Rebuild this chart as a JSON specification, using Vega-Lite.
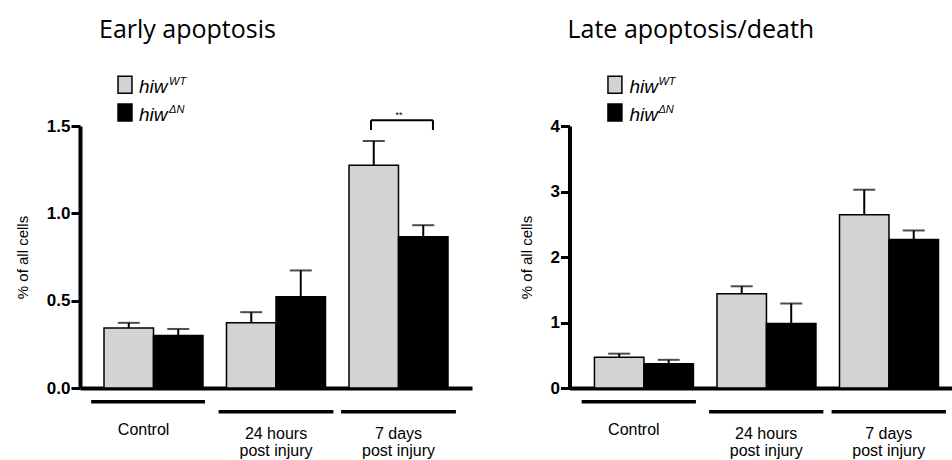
{
  "$schema": "https://vega.github.io/schema/vega-lite/v6.json",
  "background": "white",
  "autosize": {"type": "pad"},
  "padding": {"left": 15, "top": 18, "right": 0, "bottom": 0},
  "spacing": 97.5,
  "bounds": "flush",
  "datasets": {
    "early": [
      {"group": "Control", "geno": "WT", "value": 0.344, "upper": 0.373},
      {"group": "Control", "geno": "KO", "value": 0.300, "upper": 0.338},
      {"group": "24h", "geno": "WT", "value": 0.373, "upper": 0.434},
      {"group": "24h", "geno": "KO", "value": 0.522, "upper": 0.673},
      {"group": "7d", "geno": "WT", "value": 1.275, "upper": 1.414},
      {"group": "7d", "geno": "KO", "value": 0.866, "upper": 0.932}
    ],
    "late": [
      {"group": "Control", "geno": "WT", "value": 0.468, "upper": 0.524},
      {"group": "Control", "geno": "KO", "value": 0.370, "upper": 0.430},
      {"group": "24h", "geno": "WT", "value": 1.440, "upper": 1.553},
      {"group": "24h", "geno": "KO", "value": 0.983, "upper": 1.290},
      {"group": "7d", "geno": "WT", "value": 2.645, "upper": 3.027},
      {"group": "7d", "geno": "KO", "value": 2.268, "upper": 2.405}
    ],
    "groups": [
      {"group": "Control", "label": "Control"},
      {"group": "24h", "label": "24 hours\npost injury"},
      {"group": "7d", "label": "7 days\npost injury"}
    ],
    "legendWT": [{"geno": "WT", "name": "hiw", "sup": "WT"}],
    "legendKO": [{"geno": "KO", "name": "hiw", "sup": "ΔN"}],
    "sig": [{"group": "7d", "label": "**"}]
  },
  "hconcat": [
    {
      "width": 392,
      "height": 262,
      "title": {"text": "Early apoptosis", "anchor": "start", "frame": "group", "dx": 19, "offset": 30},
      "encoding": {
        "x": {"field": "group", "type": "nominal", "sort": ["Control", "24h", "7d"],
              "scale": {"paddingInner": 0.192, "paddingOuter": 0.196, "align": 0.5},
              "axis": {"labels": false, "ticks": false, "title": null, "domainWidth": 4, "domainColor": "black"}}
      },
      "layer": [
        {
          "data": {"name": "early"},
          "mark": {"type": "bar", "stroke": "black", "strokeWidth": 1.5},
          "encoding": {
            "xOffset": {"field": "geno", "sort": ["WT", "KO"], "scale": {"paddingInner": 0, "paddingOuter": 0}},
            "y": {"field": "value", "type": "quantitative", "scale": {"domain": [0, 1.5], "nice": false},
                  "axis": {"values": [0, 0.5, 1, 1.5], "format": ".1f", "title": "% of all cells"}},
            "fill": {"field": "geno", "scale": {"domain": ["WT", "KO"], "range": ["#d3d3d3", "#000000"]}, "legend": null}
          }
        },
        {
          "data": {"name": "early"},
          "mark": {"type": "rule", "color": "black", "strokeWidth": 2},
          "encoding": {
            "xOffset": {"field": "geno", "sort": ["WT", "KO"]},
            "y": {"field": "value", "type": "quantitative"},
            "y2": {"field": "upper"}
          }
        },
        {
          "data": {"name": "early"},
          "mark": {"type": "tick", "color": "black", "thickness": 2, "size": 22},
          "encoding": {
            "xOffset": {"field": "geno", "sort": ["WT", "KO"]},
            "y": {"field": "upper", "type": "quantitative"}
          }
        },
        {
          "data": {"name": "groups"},
          "transform": [{"filter": "datum.group == 'Control'"}],
          "mark": {"type": "rule", "color": "black", "strokeWidth": 3.5},
          "encoding": {
            "x": {"field": "group", "type": "nominal", "sort": ["Control", "24h", "7d"], "bandPosition": -0.13},
            "x2": {"field": "group", "bandPosition": 1.02},
            "y": {"datum": -0.0786}
          }
        },
        {
          "data": {"name": "groups"},
          "transform": [{"filter": "datum.group != 'Control'"}],
          "mark": {"type": "rule", "color": "black", "strokeWidth": 3.5},
          "encoding": {
            "x": {"field": "group", "type": "nominal", "sort": ["Control", "24h", "7d"], "bandPosition": -0.08},
            "x2": {"field": "group", "bandPosition": 1.08},
            "y": {"datum": -0.136}
          }
        },
        {
          "data": {"name": "groups"},
          "transform": [{"filter": "datum.group == 'Control'"}],
          "mark": {"type": "text", "font": "Liberation Sans", "fontSize": 16, "baseline": "middle", "align": "center", "color": "black"},
          "encoding": {
            "x": {"field": "group", "type": "nominal", "sort": ["Control", "24h", "7d"], "bandPosition": 0.4},
            "y": {"datum": -0.2391},
            "text": {"field": "label"}
          }
        },
        {
          "data": {"name": "groups"},
          "transform": [{"filter": "datum.group != 'Control'"}],
          "mark": {"type": "text", "font": "Liberation Sans", "fontSize": 16, "baseline": "middle", "align": "center", "lineBreak": "\n", "lineHeight": 17, "color": "black"},
          "encoding": {
            "x": {"field": "group", "type": "nominal", "sort": ["Control", "24h", "7d"], "bandPosition": 0.5},
            "y": {"datum": -0.265},
            "text": {"field": "label"}
          }
        },
        {
          "data": {"name": "legendWT"},
          "encoding": {"y": {"datum": 1.736}},
          "layer": [
            {"mark": {"type": "point", "shape": "M-0.82,-1H0.82V1H-0.82Z", "size": 289, "filled": true, "stroke": "black", "strokeWidth": 1.5, "opacity": 1},
             "encoding": {"x": {"datum": "Control", "type": "nominal", "bandPosition": 0.212},
                          "fill": {"field": "geno", "legend": null}}},
            {"mark": {"type": "text", "font": "Liberation Sans", "fontStyle": "italic", "fontSize": 19, "align": "left", "baseline": "middle", "dy": 2, "color": "black"},
             "encoding": {"x": {"datum": "Control", "type": "nominal", "bandPosition": 0.354}, "text": {"field": "name"}}},
            {"mark": {"type": "text", "font": "Liberation Sans", "fontStyle": "italic", "fontSize": 11, "align": "left", "baseline": "middle", "dy": -3, "color": "black"},
             "encoding": {"x": {"datum": "Control", "type": "nominal", "bandPosition": 0.657}, "text": {"field": "sup"}}}
          ]
        },
        {
          "data": {"name": "legendKO"},
          "encoding": {"y": {"datum": 1.577}},
          "layer": [
            {"mark": {"type": "point", "shape": "M-0.82,-1H0.82V1H-0.82Z", "size": 289, "filled": true, "stroke": "black", "strokeWidth": 1.5, "opacity": 1},
             "encoding": {"x": {"datum": "Control", "type": "nominal", "bandPosition": 0.212},
                          "fill": {"field": "geno", "legend": null}}},
            {"mark": {"type": "text", "font": "Liberation Sans", "fontStyle": "italic", "fontSize": 19, "align": "left", "baseline": "middle", "dy": 2, "color": "black"},
             "encoding": {"x": {"datum": "Control", "type": "nominal", "bandPosition": 0.354}, "text": {"field": "name"}}},
            {"mark": {"type": "text", "font": "Liberation Sans", "fontStyle": "italic", "fontSize": 11, "align": "left", "baseline": "middle", "dy": -3, "color": "black"},
             "encoding": {"x": {"datum": "Control", "type": "nominal", "bandPosition": 0.657}, "text": {"field": "sup"}}}
          ]
        },
        {
          "data": {"name": "sig"},
          "layer": [
            {"mark": {"type": "rule", "color": "black", "strokeWidth": 2},
             "encoding": {"x": {"field": "group", "type": "nominal", "bandPosition": 0.222},
                          "x2": {"field": "group", "bandPosition": 0.848},
                          "y": {"datum": 1.533}}},
            {"mark": {"type": "rule", "color": "black", "strokeWidth": 2},
             "encoding": {"x": {"field": "group", "type": "nominal", "bandPosition": 0.222},
                          "y": {"datum": 1.477}, "y2": {"datum": 1.533}}},
            {"mark": {"type": "rule", "color": "black", "strokeWidth": 2},
             "encoding": {"x": {"field": "group", "type": "nominal", "bandPosition": 0.848},
                          "y": {"datum": 1.477}, "y2": {"datum": 1.533}}},
            {"mark": {"type": "text", "font": "Liberation Sans", "fontSize": 9, "align": "center", "baseline": "middle", "color": "black"},
             "encoding": {"x": {"field": "group", "type": "nominal", "bandPosition": 0.505},
                          "y": {"datum": 1.565}, "text": {"field": "label"}}}
          ]
        }
      ]
    },
    {
      "width": 384,
      "height": 262,
      "title": {"text": "Late apoptosis/death", "anchor": "start", "frame": "group", "dx": -2, "offset": 30},
      "encoding": {
        "x": {"field": "group", "type": "nominal", "sort": ["Control", "24h", "7d"],
              "scale": {"paddingInner": 0.196, "paddingOuter": 0.165, "align": 0.617},
              "axis": {"labels": false, "ticks": false, "title": null, "domainWidth": 4, "domainColor": "black"}}
      },
      "layer": [
        {
          "data": {"name": "late"},
          "mark": {"type": "bar", "stroke": "black", "strokeWidth": 1.5},
          "encoding": {
            "xOffset": {"field": "geno", "sort": ["WT", "KO"], "scale": {"paddingInner": 0, "paddingOuter": 0}},
            "y": {"field": "value", "type": "quantitative", "scale": {"domain": [0, 4], "nice": false},
                  "axis": {"values": [0, 1, 2, 3, 4], "format": "d", "title": "% of all cells"}},
            "fill": {"field": "geno", "scale": {"domain": ["WT", "KO"], "range": ["#d3d3d3", "#000000"]}, "legend": null}
          }
        },
        {
          "data": {"name": "late"},
          "mark": {"type": "rule", "color": "black", "strokeWidth": 2},
          "encoding": {
            "xOffset": {"field": "geno", "sort": ["WT", "KO"]},
            "y": {"field": "value", "type": "quantitative"},
            "y2": {"field": "upper"}
          }
        },
        {
          "data": {"name": "late"},
          "mark": {"type": "tick", "color": "black", "thickness": 2, "size": 22},
          "encoding": {
            "xOffset": {"field": "geno", "sort": ["WT", "KO"]},
            "y": {"field": "upper", "type": "quantitative"}
          }
        },
        {
          "data": {"name": "groups"},
          "transform": [{"filter": "datum.group == 'Control'"}],
          "mark": {"type": "rule", "color": "black", "strokeWidth": 3.5},
          "encoding": {
            "x": {"field": "group", "type": "nominal", "sort": ["Control", "24h", "7d"], "bandPosition": -0.13},
            "x2": {"field": "group", "bandPosition": 1.03},
            "y": {"datum": -0.2095}
          }
        },
        {
          "data": {"name": "groups"},
          "transform": [{"filter": "datum.group != 'Control'"}],
          "mark": {"type": "rule", "color": "black", "strokeWidth": 3.5},
          "encoding": {
            "x": {"field": "group", "type": "nominal", "sort": ["Control", "24h", "7d"], "bandPosition": -0.08},
            "x2": {"field": "group", "bandPosition": 1.08},
            "y": {"datum": -0.362}
          }
        },
        {
          "data": {"name": "groups"},
          "transform": [{"filter": "datum.group == 'Control'"}],
          "mark": {"type": "text", "font": "Liberation Sans", "fontSize": 16, "baseline": "middle", "align": "center", "color": "black"},
          "encoding": {
            "x": {"field": "group", "type": "nominal", "sort": ["Control", "24h", "7d"], "bandPosition": 0.4},
            "y": {"datum": -0.637},
            "text": {"field": "label"}
          }
        },
        {
          "data": {"name": "groups"},
          "transform": [{"filter": "datum.group != 'Control'"}],
          "mark": {"type": "text", "font": "Liberation Sans", "fontSize": 16, "baseline": "middle", "align": "center", "lineBreak": "\n", "lineHeight": 17, "color": "black"},
          "encoding": {
            "x": {"field": "group", "type": "nominal", "sort": ["Control", "24h", "7d"], "bandPosition": 0.5},
            "y": {"datum": -0.706},
            "text": {"field": "label"}
          }
        },
        {
          "data": {"name": "legendWT"},
          "encoding": {"y": {"datum": 4.63}},
          "layer": [
            {"mark": {"type": "point", "shape": "M-0.82,-1H0.82V1H-0.82Z", "size": 289, "filled": true, "stroke": "black", "strokeWidth": 1.5, "opacity": 1},
             "encoding": {"x": {"datum": "Control", "type": "nominal", "bandPosition": 0.208},
                          "fill": {"field": "geno", "legend": null}}},
            {"mark": {"type": "text", "font": "Liberation Sans", "fontStyle": "italic", "fontSize": 19, "align": "left", "baseline": "middle", "dy": 2, "color": "black"},
             "encoding": {"x": {"datum": "Control", "type": "nominal", "bandPosition": 0.355}, "text": {"field": "name"}}},
            {"mark": {"type": "text", "font": "Liberation Sans", "fontStyle": "italic", "fontSize": 11, "align": "left", "baseline": "middle", "dy": -3, "color": "black"},
             "encoding": {"x": {"datum": "Control", "type": "nominal", "bandPosition": 0.65}, "text": {"field": "sup"}}}
          ]
        },
        {
          "data": {"name": "legendKO"},
          "encoding": {"y": {"datum": 4.205}},
          "layer": [
            {"mark": {"type": "point", "shape": "M-0.82,-1H0.82V1H-0.82Z", "size": 289, "filled": true, "stroke": "black", "strokeWidth": 1.5, "opacity": 1},
             "encoding": {"x": {"datum": "Control", "type": "nominal", "bandPosition": 0.208},
                          "fill": {"field": "geno", "legend": null}}},
            {"mark": {"type": "text", "font": "Liberation Sans", "fontStyle": "italic", "fontSize": 19, "align": "left", "baseline": "middle", "dy": 2, "color": "black"},
             "encoding": {"x": {"datum": "Control", "type": "nominal", "bandPosition": 0.355}, "text": {"field": "name"}}},
            {"mark": {"type": "text", "font": "Liberation Sans", "fontStyle": "italic", "fontSize": 11, "align": "left", "baseline": "middle", "dy": -3, "color": "black"},
             "encoding": {"x": {"datum": "Control", "type": "nominal", "bandPosition": 0.65}, "text": {"field": "sup"}}}
          ]
        }
      ]
    }
  ],
  "config": {
    "view": {"stroke": null},
    "title": {"font": "Open Sans", "fontSize": 25, "fontWeight": "normal", "color": "black"},
    "axisY": {
      "domainWidth": 4, "domainColor": "black", "tickWidth": 3, "tickColor": "black", "tickSize": 9,
      "labelPadding": 1, "labelFont": "Liberation Sans", "labelFontWeight": "bold", "labelFontSize": 17, "labelColor": "black",
      "titleFont": "Liberation Sans", "titleFontSize": 15, "titleFontWeight": "normal", "titleColor": "black", "titlePadding": 16,
      "grid": false
    }
  }
}
